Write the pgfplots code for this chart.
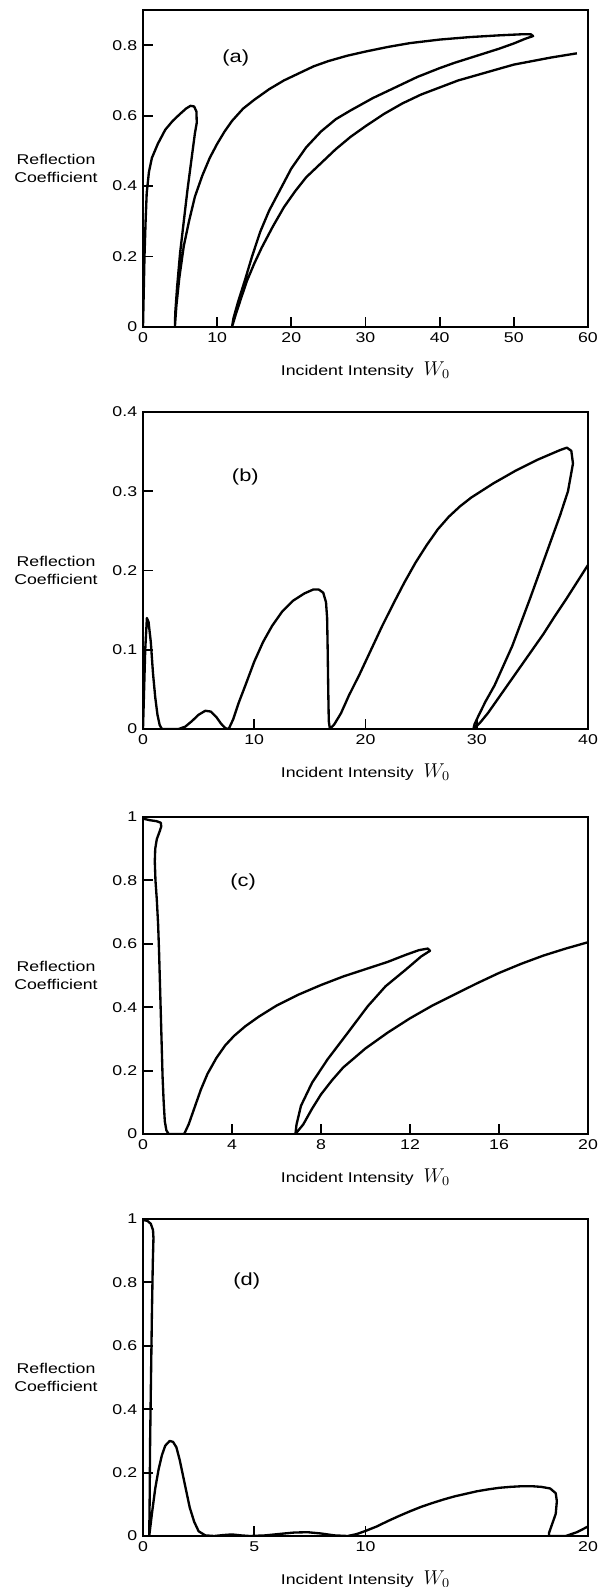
\documentclass[border=0pt]{standalone}
\usepackage{fontspec}
\setmainfont{Liberation Sans}[FakeStretch=1.25]
\usepackage{pgfplots}
\pgfplotsset{compat=1.18}

% one panel = 445 x 317 px of the reference, 1px = 0.6pt
\pgfplotsset{
  panel/.style={
    scale only axis, width=267pt, height=190.2pt,
    anchor=north west, xmin=0, ymin=0,
    axis line style={line width=1.1pt},
    tick pos=left, tick align=inside, major tick length=6pt,
    every tick/.style={black, line width=1.1pt},
    /pgf/number format/assume math mode=true,
    tick label style={font=\fontsize{8.5}{10}\selectfont},
    xlabel={Incident Intensity\ \ {\fontsize{12}{13}\selectfont$W_{0}$}},
    xlabel style={at={(axis description cs:0.5,0)}, anchor=center,
      yshift=-25.8pt, font=\fontsize{8.5}{10}\selectfont},
    ylabel={Reflection\\Coefficient},
    ylabel style={rotate=-90, align=center, at={(axis description cs:0,0.5)},
      anchor=center, xshift=-52.2pt, font=\fontsize{8.5}{10.8}\selectfont},
  },
  curve/.style={black, line width=1.4pt, line join=round, no markers},
}
\newcommand{\plab}{\fontsize{10.5}{12}\selectfont}

\begin{document}
\begin{tikzpicture}
\useasboundingbox (0,0) rectangle (363pt,-952.2pt);

% (a)
\begin{axis}[panel, at={(85.8pt,-6pt)},
  xmax=60, ymax=0.9,
  xtick={0,10,20,30,40,50,60}, ytick={0,0.2,0.4,0.6,0.8}]
\addplot[curve] coordinates {
 (0,0) (0.1,0.1) (0.2,0.2) (0.35,0.3) (0.5,0.38) (0.8,0.44) (1.2,0.48)
 (2.0,0.52) (3.0,0.56) (4.0,0.585) (5.0,0.605) (5.8,0.62) (6.4,0.628)
 (6.9,0.626) (7.2,0.612) (7.25,0.58) (7.0,0.55) (6.5,0.47) (6.0,0.39)
 (5.5,0.30) (5.0,0.21) (4.6,0.114) (4.35,0.04) (4.3,0)
 (4.5,0.06) (4.9,0.14) (5.5,0.23) (6.2,0.30) (7.0,0.37) (8,0.43) (9,0.48)
 (10,0.52) (11,0.555) (12,0.585) (13.5,0.62) (15,0.645) (17,0.675)
 (19,0.70) (21,0.72) (23,0.74) (25,0.755) (27.5,0.77) (30,0.782)
 (33,0.795) (36,0.806) (40,0.816) (44,0.823) (48,0.828) (51,0.831)
 (52.3,0.831) (52.6,0.826) (51.5,0.818) (50,0.805) (48,0.79) (45,0.77)
 (42,0.75) (40,0.735) (37,0.71) (34,0.68) (31,0.65) (28,0.615) (26,0.59)
 (24,0.555) (22,0.51) (20,0.45) (18.5,0.39) (17,0.33) (15.8,0.27)
 (14.7,0.2) (13.7,0.13) (12.8,0.07) (12.2,0.025) (12,0)
 (12.5,0.035) (13.2,0.08) (14,0.13) (15,0.18) (16,0.225) (17.5,0.285)
 (19,0.34) (20.5,0.385) (22,0.425) (24,0.465) (26,0.505) (28,0.54)
 (30,0.57) (32.5,0.605) (35,0.635) (37.5,0.66) (40,0.68) (42.5,0.70)
 (45,0.715) (47.5,0.73) (50,0.745) (52.5,0.755) (55,0.765) (58.5,0.777)
};
\node[font=\plab] at (axis cs:12.5,0.765) {(a)};
\end{axis}

% (b)
\begin{axis}[panel, at={(85.8pt,-247.2pt)},
  xmax=40, ymax=0.4,
  xtick={0,10,20,30,40}, ytick={0,0.1,0.2,0.3,0.4}]
\addplot[curve] coordinates {
 (0,0) (0.1,0.05) (0.2,0.1) (0.35,0.14) (0.5,0.135) (0.7,0.11) (0.9,0.07)
 (1.1,0.04) (1.3,0.018) (1.5,0.005) (1.7,0) (3.2,0) (3.8,0.003)
 (4.4,0.01) (5.0,0.018) (5.6,0.023) (6.1,0.022) (6.6,0.015) (7.0,0.007)
 (7.4,0.001) (7.7,0) (8.1,0.012) (8.6,0.033) (9.2,0.055) (10,0.085)
 (10.8,0.11) (11.6,0.13) (12.5,0.148) (13.5,0.162) (14.5,0.171)
 (15.3,0.176) (15.8,0.176) (16.2,0.172) (16.45,0.16) (16.55,0.14)
 (16.6,0.1) (16.65,0.05) (16.7,0.01) (16.8,0)
 (17.2,0.006) (17.8,0.02) (18.5,0.042) (19.5,0.07) (20.5,0.1) (21.5,0.13)
 (22.5,0.158) (23.5,0.185) (24.5,0.21) (25.5,0.232) (26.5,0.252)
 (27.5,0.268) (28.5,0.281) (29.5,0.292) (30.5,0.301) (31.5,0.31)
 (32.5,0.318) (33.5,0.326) (34.5,0.333) (35.5,0.34) (36.5,0.346)
 (37.5,0.352) (38.1,0.355) (38.5,0.351) (38.65,0.335) (38.2,0.30)
 (37.5,0.27) (36.6,0.235) (35.7,0.2) (34.8,0.165) (34,0.135) (33.2,0.105)
 (32.4,0.08) (31.6,0.055) (30.8,0.035) (30.2,0.018) (29.8,0.006) (29.7,0)
 (30.3,0.008) (31,0.02) (32,0.04) (33,0.06) (34,0.08) (35,0.1) (36,0.12)
 (37,0.142) (38,0.163) (39,0.185) (40,0.207)
};
\node[font=\plab] at (axis cs:9.2,0.318) {(b)};
\end{axis}

% (c)
\begin{axis}[panel, at={(85.8pt,-490.2pt)},
  xmax=20, ymax=1,
  xtick={0,4,8,12,16,20}, ytick={0,0.2,0.4,0.6,0.8,1}]
\addplot[curve] coordinates {
 (0,0.995) (0.3,0.99) (0.6,0.987) (0.8,0.982) (0.82,0.97) (0.75,0.955)
 (0.62,0.93) (0.55,0.9) (0.53,0.86) (0.56,0.8) (0.62,0.74) (0.68,0.66)
 (0.72,0.58) (0.76,0.48) (0.8,0.38) (0.84,0.28) (0.88,0.18) (0.93,0.1)
 (0.98,0.04) (1.05,0.012) (1.15,0) (1.85,0)
 (2.05,0.03) (2.3,0.08) (2.6,0.14) (2.9,0.19) (3.3,0.24) (3.7,0.28)
 (4.1,0.31) (4.6,0.34) (5.2,0.37) (6,0.405) (7,0.44) (8,0.47) (9,0.497)
 (10,0.52) (11,0.543) (11.8,0.565) (12.4,0.58) (12.8,0.585) (12.9,0.578)
 (12.5,0.56) (11.8,0.518) (10.9,0.466) (10.1,0.403) (9.2,0.319)
 (8.3,0.236) (7.6,0.162) (7.1,0.089) (6.9,0.03) (6.85,0)
 (7.2,0.03) (7.6,0.08) (8,0.125) (8.5,0.17) (9,0.21) (10,0.27) (11,0.32)
 (12,0.365) (13,0.405) (14,0.44) (15,0.475) (16,0.508) (17,0.537)
 (18,0.563) (19,0.585) (20,0.605)
};
\node[font=\plab] at (axis cs:4.5,0.796) {(c)};
\end{axis}

% (d)
\begin{axis}[panel, at={(85.8pt,-731.4pt)},
  xmax=20, ymax=1,
  xtick={0,5,10,20}, ytick={0,0.2,0.4,0.6,0.8,1}]
\addplot[curve] coordinates {
 (0,0.997) (0.2,0.994) (0.35,0.985) (0.45,0.965) (0.47,0.94) (0.44,0.86)
 (0.4,0.7) (0.36,0.5) (0.32,0.3) (0.3,0.12) (0.28,0)
 (0.4,0.07) (0.55,0.15) (0.7,0.21) (0.85,0.255) (1.0,0.285) (1.2,0.3)
 (1.35,0.297) (1.5,0.28) (1.65,0.24) (1.8,0.19) (1.95,0.14) (2.1,0.09)
 (2.3,0.045) (2.5,0.015) (2.8,0.002) (3.2,0) (3.6,0.003) (4.0,0.005)
 (4.4,0.002) (4.8,0) (5.5,0.002) (6.2,0.007) (6.8,0.011) (7.4,0.012)
 (8.0,0.008) (8.6,0.002) (9.2,0) (9.6,0.006) (10,0.016) (10.5,0.03)
 (11,0.047) (11.5,0.063) (12,0.078) (12.5,0.092) (13,0.104) (13.5,0.115)
 (14,0.125) (14.5,0.133) (15,0.141) (15.5,0.147) (16,0.152) (16.5,0.155)
 (17,0.157) (17.5,0.157) (17.9,0.155) (18.3,0.15) (18.55,0.135)
 (18.6,0.11) (18.55,0.07) (18.35,0.03) (18.25,0.01) (18.25,0) (19.0,0)
 (19.5,0.012) (20,0.03)
};
\node[font=\plab] at (axis cs:4.66,0.806) {(d)};
\end{axis}
\end{tikzpicture}
\end{document}
